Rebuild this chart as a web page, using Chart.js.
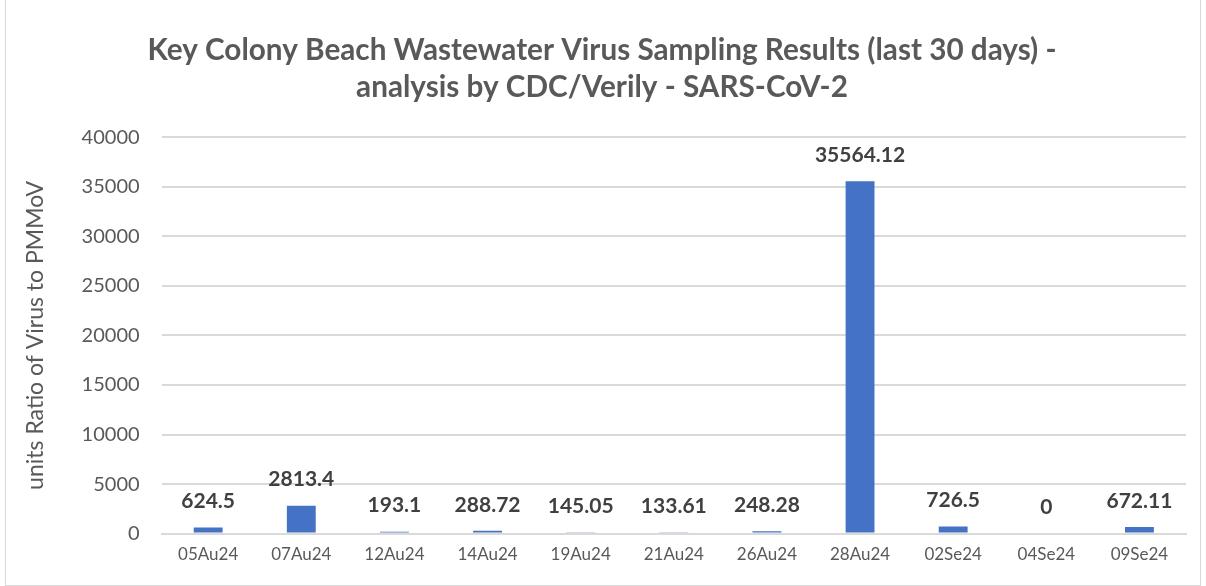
<!DOCTYPE html>
<html>
<head>
<meta charset="utf-8">
<script src="https://cdn.jsdelivr.net/npm/chart.js@4"></script>
<style>
    body { margin: 0; background: #fff; }
    #wrap { position: absolute; left: 5px; top: -1px; width: 1194px; height: 585px; border: 1px solid #d9d9d9; }
</style>
</head>
<body>
<div id="wrap"><canvas id="chart"></canvas></div>
<script>
// Dados do gráfico
const categorias = ['05Au24', '07Au24', '12Au24', '14Au24', '19Au24', '21Au24', '26Au24', '28Au24', '02Se24', '04Se24', '09Se24'];
const valores = [624.5, 2813.4, 193.1, 288.72, 145.05, 133.61, 248.28, 35564.12, 726.5, 0, 672.11];
const rotulos = ['624.5', '2813.4', '193.1', '288.72', '145.05', '133.61', '248.28', '35564.12', '726.5', '0', '672.11'];

// Plugin simples para os rótulos de dados acima das barras
const rotulosPlugin = {
    id: 'rotulos',
    afterDatasetsDraw(chart) {
        const ctx = chart.ctx;
        const meta = chart.getDatasetMeta(0);
        ctx.save();
        ctx.font = 'bold 21px Lato';
        ctx.fillStyle = '#404040';
        ctx.textAlign = 'center';
        ctx.textBaseline = 'middle';
        meta.data.forEach((bar, i) => {
            ctx.fillText(rotulos[i], bar.x, bar.y - 26);
        });
        ctx.restore();
    }
};

new Chart(document.getElementById('chart'), {
    type: 'bar',
    data: {
        labels: categorias,
        datasets: [{
            data: valores,
            backgroundColor: '#4472C4',
            barPercentage: 0.31,
            categoryPercentage: 1
        }]
    },
    options: {
        responsive: true,
        maintainAspectRatio: false,
        animation: false,
        layout: { padding: { left: 12, right: 14, top: 32, bottom: 17 } },
        plugins: {
            legend: { display: false },
            tooltip: { enabled: false },
            title: {
                display: true,
                text: ['Key Colony Beach Wastewater Virus Sampling Results (last 30 days) -', 'analysis by CDC/Verily - SARS-CoV-2'],
                color: '#595959',
                font: { family: 'Lato', size: 29.7, weight: 'bold', lineHeight: 1.25 },
                padding: { top: 0, bottom: 31 }
            }
        },
        scales: {
            x: {
                grid: { display: false },
                border: { color: '#d9d9d9', width: 2 },
                ticks: { color: '#595959', font: { family: 'Lato', size: 17 }, padding: 3 }
            },
            y: {
                min: 0,
                max: 40000,
                ticks: {
                    stepSize: 5000,
                    color: '#595959',
                    font: { family: 'Lato', size: 20 },
                    padding: 22,
                    callback: value => String(value)
                },
                grid: { color: '#d9d9d9', lineWidth: 2, drawTicks: false },
                border: { display: false },
                title: {
                    display: true,
                    text: 'units Ratio of Virus to PMMoV',
                    color: '#595959',
                    font: { family: 'Lato', size: 23 },
                    padding: { bottom: 10 }
                }
            }
        }
    },
    plugins: [rotulosPlugin]
});
</script>
</body>
</html>
